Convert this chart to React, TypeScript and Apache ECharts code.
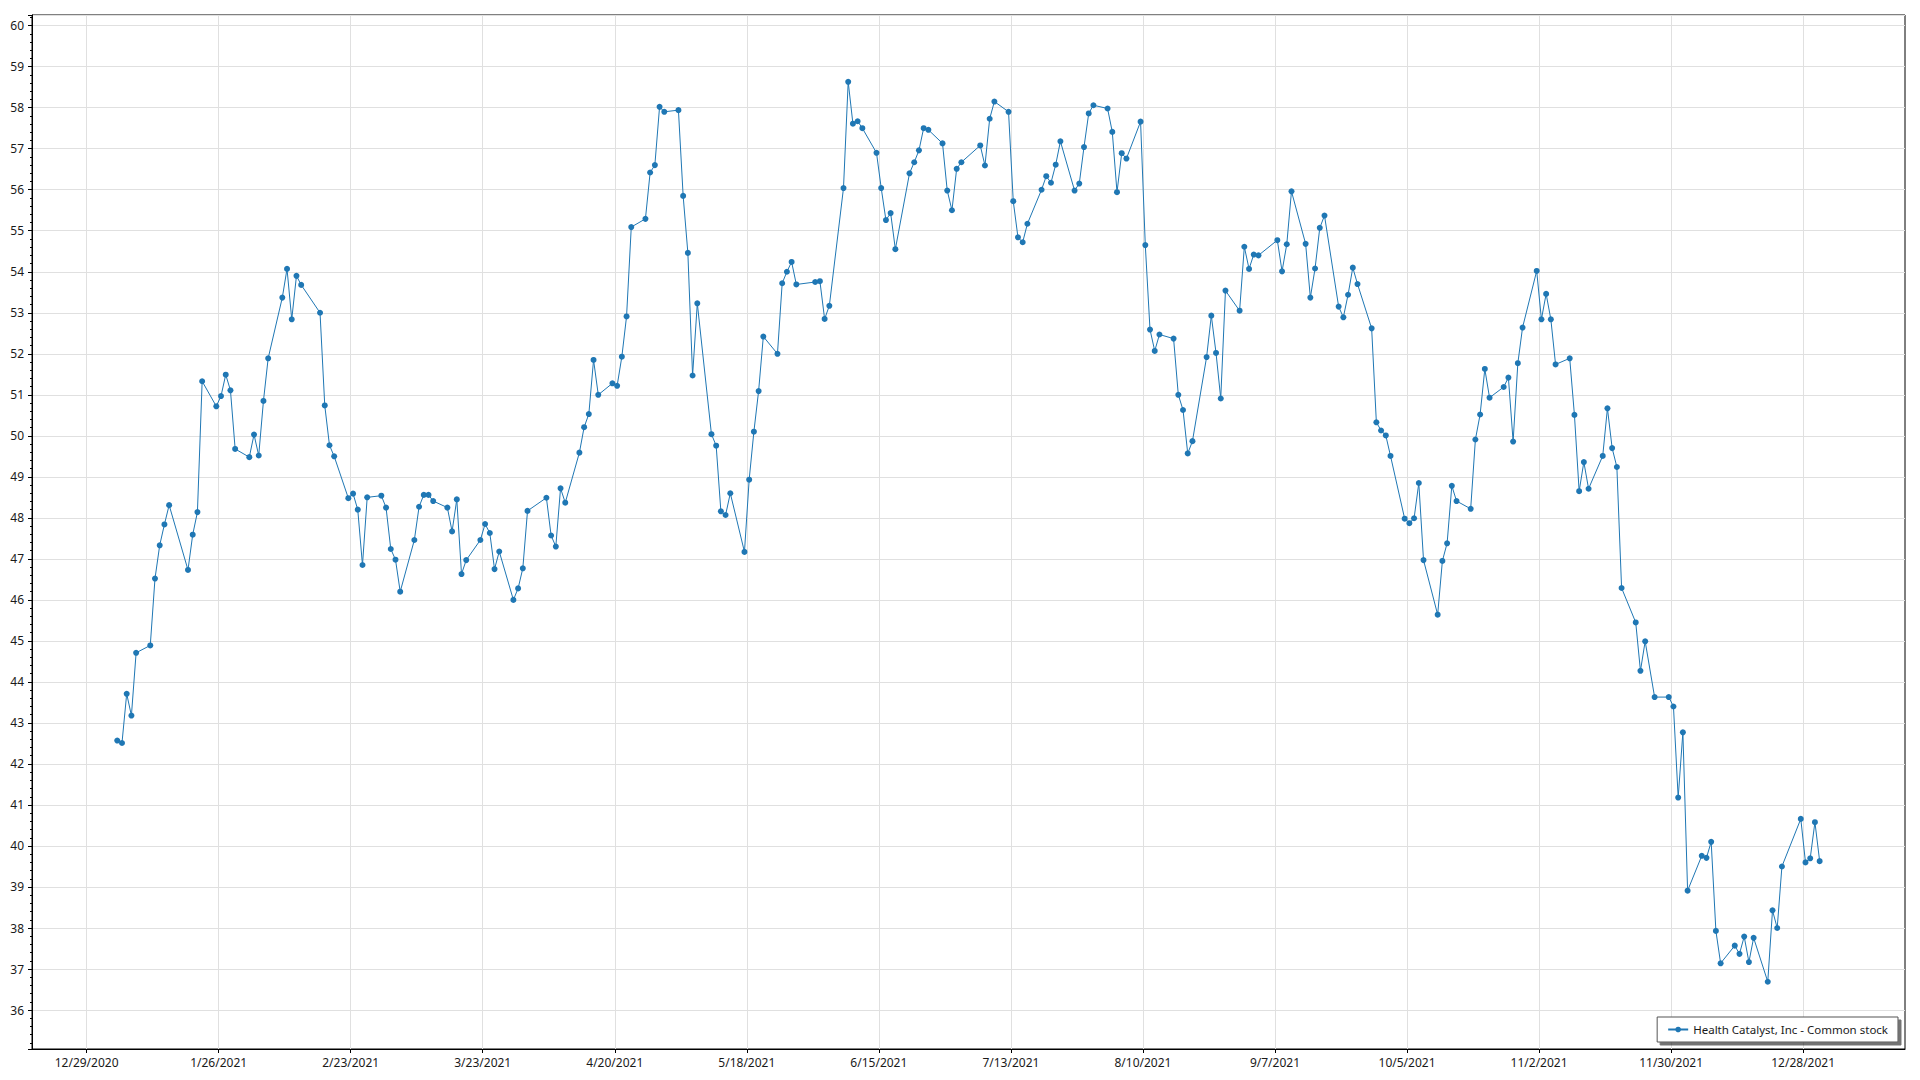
import React, { useEffect, useRef } from "react";
import * as echarts from "echarts";

// ---------- data (2021 daily closes) ----------
const YEAR = 2021;
const SERIES_NAME = "Health Catalyst, Inc - Common stock";

const DATES: string[] = [
  "1/4", "1/5", "1/6", "1/7", "1/8", "1/11", "1/12", "1/13", "1/14", "1/15",
  "1/19", "1/20", "1/21", "1/22", "1/25", "1/26", "1/27", "1/28", "1/29",
  "2/1", "2/2", "2/3", "2/4", "2/5", "2/8", "2/9", "2/10", "2/11", "2/12",
  "2/16", "2/17", "2/18", "2/19", "2/22", "2/23", "2/24", "2/25", "2/26",
  "3/1", "3/2", "3/3", "3/4", "3/5", "3/8", "3/9", "3/10", "3/11", "3/12",
  "3/15", "3/16", "3/17", "3/18", "3/19", "3/22", "3/23", "3/24", "3/25", "3/26",
  "3/29", "3/30", "3/31", "4/1", "4/5", "4/6", "4/7", "4/8", "4/9",
  "4/12", "4/13", "4/14", "4/15", "4/16", "4/19", "4/20", "4/21", "4/22", "4/23",
  "4/26", "4/27", "4/28", "4/29", "4/30", "5/3", "5/4", "5/5", "5/6", "5/7",
  "5/10", "5/11", "5/12", "5/13", "5/14", "5/17", "5/18", "5/19", "5/20", "5/21",
  "5/24", "5/25", "5/26", "5/27", "5/28", "6/1", "6/2", "6/3", "6/4",
  "6/7", "6/8", "6/9", "6/10", "6/11", "6/14", "6/15", "6/16", "6/17", "6/18",
  "6/21", "6/22", "6/23", "6/24", "6/25", "6/28", "6/29", "6/30", "7/1", "7/2",
  "7/6", "7/7", "7/8", "7/9", "7/12", "7/13", "7/14", "7/15", "7/16",
  "7/19", "7/20", "7/21", "7/22", "7/23", "7/26", "7/27", "7/28", "7/29", "7/30",
  "8/2", "8/3", "8/4", "8/5", "8/6", "8/9", "8/10", "8/11", "8/12", "8/13",
  "8/16", "8/17", "8/18", "8/19", "8/20", "8/23", "8/24", "8/25", "8/26", "8/27",
  "8/30", "8/31", "9/1", "9/2", "9/3", "9/7", "9/8", "9/9", "9/10",
  "9/13", "9/14", "9/15", "9/16", "9/17", "9/20", "9/21", "9/22", "9/23", "9/24",
  "9/27", "9/28", "9/29", "9/30", "10/1", "10/4", "10/5", "10/6", "10/7", "10/8",
  "10/11", "10/12", "10/13", "10/14", "10/15", "10/18", "10/19", "10/20", "10/21", "10/22",
  "10/25", "10/26", "10/27", "10/28", "10/29", "11/1", "11/2", "11/3", "11/4", "11/5",
  "11/8", "11/9", "11/10", "11/11", "11/12", "11/15", "11/16", "11/17", "11/18", "11/19",
  "11/22", "11/23", "11/24", "11/26", "11/29", "11/30", "12/1", "12/2", "12/3",
  "12/6", "12/7", "12/8", "12/9", "12/10", "12/13", "12/14", "12/15", "12/16", "12/17",
  "12/20", "12/21", "12/22", "12/23", "12/27", "12/28", "12/29", "12/30", "12/31",
];

const PRICES: number[] = [
  42.57, 42.51, 43.71, 43.18, 44.71, 44.89, 46.52, 47.33, 47.84, 48.31,
  46.73, 47.59, 48.14, 51.33, 50.72, 50.97, 51.49, 51.11, 49.68,
  49.48, 50.03, 49.52, 50.85, 51.89, 53.37, 54.07, 52.84, 53.9, 53.68,
  53.0, 50.74, 49.77, 49.5, 48.48, 48.59, 48.2, 46.85, 48.5,
  48.54, 48.25, 47.24, 46.98, 46.2, 47.46, 48.27, 48.56, 48.56, 48.41,
  48.25, 47.67, 48.45, 46.63, 46.97, 47.46, 47.85, 47.63, 46.75, 47.18,
  46.0, 46.28, 46.77, 48.17, 48.49, 47.57, 47.3, 48.72, 48.37,
  49.59, 50.21, 50.53, 51.85, 51.0, 51.28, 51.22, 51.93, 52.91, 55.09,
  55.29, 56.42, 56.6, 58.02, 57.9, 57.94, 55.85, 54.46, 51.47, 53.23,
  50.04, 49.76, 48.16, 48.07, 48.6, 47.17, 48.93, 50.1, 51.09, 52.42,
  52.0, 53.72, 54.0, 54.24, 53.69, 53.75, 53.77, 52.85, 53.17,
  56.04, 58.63, 57.61, 57.67, 57.5, 56.9, 56.04, 55.26, 55.43, 54.55,
  56.4, 56.67, 56.96, 57.5, 57.46, 57.13, 55.98, 55.5, 56.51, 56.67,
  57.08, 56.59, 57.73, 58.15, 57.9, 55.72, 54.84, 54.72, 55.17,
  56.0, 56.33, 56.17, 56.61, 57.18, 55.98, 56.15, 57.04, 57.86, 58.06,
  57.98, 57.41, 55.94, 56.89, 56.76, 57.66, 54.65, 52.59, 52.07, 52.47,
  52.37, 51.0, 50.63, 49.57, 49.87, 51.92, 52.93, 52.02, 50.91, 53.54,
  53.05, 54.61, 54.07, 54.42, 54.4, 54.77, 54.01, 54.67, 55.96,
  54.68, 53.37, 54.08, 55.07, 55.37, 53.15, 52.89, 53.44, 54.1, 53.7,
  52.62, 50.33, 50.13, 50.01, 49.51, 47.98, 47.87, 47.99, 48.85, 46.97,
  45.64, 46.95, 47.38, 48.78, 48.41, 48.22, 49.91, 50.52, 51.63, 50.93,
  51.19, 51.42, 49.86, 51.77, 52.64, 54.02, 52.84, 53.46, 52.84, 51.74,
  51.89, 50.51, 48.65, 49.36, 48.71, 49.51, 50.67, 49.7, 49.24, 46.29,
  45.45, 44.27, 44.99, 43.63, 43.63, 43.4, 41.18, 42.77, 38.91,
  39.76, 39.71, 40.1, 37.93, 37.14, 37.57, 37.37, 37.79, 37.17, 37.76,
  36.69, 38.43, 38.0, 39.5, 40.66, 39.6, 39.7, 40.58, 39.63,
];

const X_TICK_LABELS: string[] = [
  "12/29/2020", "1/26/2021", "2/23/2021", "3/23/2021", "4/20/2021", "5/18/2021",
  "6/15/2021", "7/13/2021", "8/10/2021", "9/7/2021", "10/5/2021", "11/2/2021",
  "11/30/2021", "12/28/2021",
];

// ---------- axis helpers ----------
const DAY_MS = 86400000;
const BASE_MS = Date.UTC(2020, 11, 29);
const dayOf = (y: number, m: number, d: number) => (Date.UTC(y, m - 1, d) - BASE_MS) / DAY_MS;
const parseMDY = (s: string) => {
  const [m, d, y] = s.split("/").map(Number);
  return dayOf(y, m, d);
};
const X_TICK_VALUES = X_TICK_LABELS.map(parseMDY);

// axis extents (days relative to 12/29/2020, and price)
const X_MIN = -11.58;
const X_MAX = 385.6;
const Y_MIN = 35.05;
const Y_MAX = 60.26;

const FONT = "Noto Sans";
const LINE_COLOR = "#1f77b4";

export default function App() {
  const ref = useRef<HTMLDivElement>(null);

  useEffect(() => {
    if (!ref.current) return;
    const chart = echarts.init(ref.current, undefined, { renderer: "svg" });

    const seriesData = DATES.map((md, i) => {
      const [m, d] = md.split("/").map(Number);
      return [dayOf(YEAR, m, d) + 0.5, PRICES[i]];
    });

    const labelFor = (v: number) => {
      const idx = X_TICK_VALUES.findIndex((t) => Math.abs(t - v) < 0.01);
      return idx >= 0 ? X_TICK_LABELS[idx] : "";
    };

    chart.setOption({
      animation: false,
      backgroundColor: "#ffffff",
      textStyle: { fontFamily: FONT },
      grid: {
        left: 32,
        right: 15,
        top: 15,
        bottom: 31,
        show: true,
        borderColor: "#000000",
        borderWidth: 1,
        backgroundColor: "transparent",
        containLabel: false,
      },
      xAxis: {
        type: "value",
        min: X_MIN,
        max: X_MAX,
        axisLine: { show: true, onZero: false, lineStyle: { color: "#000000", width: 1 } },
        axisTick: {
          show: true,
          length: 4,
          inside: false,
          lineStyle: { color: "#000000" },
          customValues: X_TICK_VALUES,
        },
        axisLabel: {
          customValues: X_TICK_VALUES,
          formatter: (v: number) => labelFor(v),
          color: "#1a1a1a",
          fontFamily: FONT,
          fontSize: 12,
          margin: 7,
          showMinLabel: true,
          showMaxLabel: true,
          hideOverlap: false,
        },
        splitLine: { show: true, lineStyle: { color: "#e0e0e0", width: 1 } },
      },
      yAxis: {
        type: "value",
        min: Y_MIN,
        max: Y_MAX,
        splitNumber: 25,
        minInterval: 1,
        maxInterval: 1,
        axisLine: { show: true, onZero: false, lineStyle: { color: "#000000", width: 1 } },
        axisTick: { show: true, length: 4, inside: false, lineStyle: { color: "#000000" } },
        minorTick: { show: true, splitNumber: 5, length: 2, lineStyle: { color: "#000000" } },
        axisLabel: {
          color: "#1a1a1a",
          fontFamily: FONT,
          fontSize: 12,
          margin: 8,
          showMinLabel: false,
          showMaxLabel: false,
          formatter: (v: number) => (Math.abs(v - Math.round(v)) < 1e-6 ? String(Math.round(v)) : ""),
        },
        splitLine: { show: true, lineStyle: { color: "#e0e0e0", width: 1 } },
      },
      legend: {
        show: true,
        right: 22,
        bottom: 38,
        orient: "horizontal",
        padding: [5, 10, 5, 10],
        itemWidth: 20,
        itemHeight: 7,
        itemGap: 5,
        backgroundColor: "#ffffff",
        borderColor: "#555555",
        borderWidth: 1,
        borderRadius: 0,
        shadowColor: "rgba(0,0,0,0.55)",
        shadowBlur: 0,
        shadowOffsetX: 3,
        shadowOffsetY: 3,
        textStyle: { color: "#1a1a1a", fontFamily: FONT, fontSize: 11.5, lineHeight: 15 },
        data: [SERIES_NAME],
      },
      series: [
        {
          name: SERIES_NAME,
          type: "line",
          data: seriesData,
          symbol: "circle",
          symbolSize: 6,
          showSymbol: true,
          showAllSymbol: true,
          lineStyle: { color: LINE_COLOR, width: 1 },
          itemStyle: { color: LINE_COLOR, borderWidth: 0 },
          emphasis: { disabled: true },
          silent: true,
        },
      ],
    });

    return () => chart.dispose();
  }, []);

  return (
    <div
      ref={ref}
      style={{ position: "fixed", left: 0, top: 0, width: 1920, height: 1080, background: "#ffffff" }}
    />
  );
}
